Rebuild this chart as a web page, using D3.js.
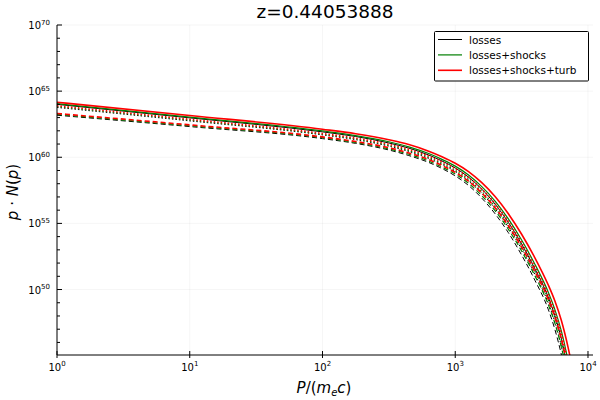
<!DOCTYPE html>
<html>
<head>
<meta charset="utf-8">
<script src="https://cdn.jsdelivr.net/npm/d3@7"></script>
<style>
  body { margin: 0; background: #fff; }
  text { font-family: "DejaVu Sans", sans-serif; }
</style>
</head>
<body>
<div id="chart"></div>
<script>
// log10 of momentum P/(m_e c) at which curves were read
const logP = [0, 1, 2, 2.25, 2.5, 2.65, 2.8, 2.9, 3.0, 3.1, 3.2, 3.3, 3.4, 3.5, 3.6, 3.7, 3.75, 3.8, 3.85, 3.9];

// log10 of p*N(p), solid curves
const lossesSolid  = [64.00, 62.98, 61.92, 61.57, 61.08, 60.69, 60.17, 59.72, 59.19, 58.50, 57.59, 56.46, 55.07, 53.44, 51.57, 49.44, 48.04, 46.25, 43.90, 41.06];
const shocksSolid  = [64.05, 63.04, 61.99, 61.64, 61.17, 60.79, 60.28, 59.84, 59.33, 58.66, 57.78, 56.69, 55.34, 53.74, 51.91, 49.82, 48.50, 46.83, 44.62, 41.93];
const turbSolid    = [64.16, 63.16, 62.12, 61.78, 61.32, 60.96, 60.46, 60.04, 59.55, 58.92, 58.08, 57.03, 55.73, 54.18, 52.40, 50.36, 49.15, 47.64, 45.63, 43.14];
// dotted curves
const lossesDotted = [63.77, 62.75, 61.69, 61.33, 60.84, 60.44, 59.91, 59.46, 58.92, 58.21, 57.28, 56.12, 54.71, 53.05, 51.16, 49.00, 47.55, 45.68, 43.23, 40.29];
const shocksDotted = [63.83, 62.81, 61.74, 61.39, 60.90, 60.51, 59.99, 59.54, 59.01, 58.32, 57.41, 56.28, 54.89, 53.26, 51.39, 49.26, 47.86, 46.07, 43.72, 40.88];
const turbDotted   = [63.89, 62.87, 61.80, 61.45, 60.98, 60.60, 60.09, 59.65, 59.14, 58.47, 57.59, 56.50, 55.15, 53.55, 51.72, 49.63, 48.31, 46.64, 44.43, 41.74];
// dashed curves
const lossesDashed = [63.18, 62.32, 61.41, 61.05, 60.55, 60.13, 59.61, 59.15, 58.59, 57.87, 56.91, 55.73, 54.30, 52.61, 50.70, 48.52, 47.00, 45.05, 42.51, 39.47];
const shocksDashed = [63.24, 62.38, 61.48, 61.12, 60.63, 60.23, 59.71, 59.26, 58.73, 58.03, 57.10, 55.96, 54.56, 52.91, 51.04, 48.89, 47.46, 45.63, 43.23, 40.34];
const turbDashed   = [63.31, 62.45, 61.54, 61.19, 60.72, 60.33, 59.82, 59.38, 58.86, 58.19, 57.29, 56.19, 54.82, 53.21, 51.37, 49.27, 47.92, 46.21, 43.96, 41.22];

const legendNames = ["losses", "losses+shocks", "losses+shocks+turb"];
const xTickExp = [0, 1, 2, 3, 4];
const yTickExp = [50, 55, 60, 65, 70];
const yMinorExp = d3.range(46, 71);
const titleText = "z=0.44053888";

const colors = ["#000000", "#007f00", "#ff0000"];
const widths = [1, 1.2, 1.6];
const dashes = { solid: null, dotted: "1.5,2", dashed: "5,3" };

const series = [
  { v: lossesSolid, c: 0, s: "solid" },
  { v: shocksSolid, c: 1, s: "solid" },
  { v: turbSolid, c: 2, s: "solid" },
  { v: lossesDotted, c: 0, s: "dotted" },
  { v: shocksDotted, c: 1, s: "dotted" },
  { v: turbDotted, c: 2, s: "dotted" },
  { v: lossesDashed, c: 0, s: "dashed" },
  { v: shocksDashed, c: 1, s: "dashed" },
  { v: turbDashed, c: 2, s: "dashed" }
];

const width = 600, height = 400;
const plotL = 57, plotR = 593, plotT = 25, plotB = 355;

const svg = d3.select("#chart").append("svg")
  .attr("width", width).attr("height", height);

const x = d3.scaleLog().domain([1, Math.pow(10, 4.0377)]).range([plotL, plotR]);
const y = d3.scaleLog().domain([Math.pow(10, 45.05), 1e70]).range([plotB, plotT]);

svg.append("clipPath").attr("id", "plotclip")
  .append("rect").attr("x", plotL).attr("y", plotT)
  .attr("width", plotR - plotL).attr("height", plotB - plotT);

// grid
const grid = svg.append("g").attr("stroke", "#000").attr("stroke-opacity", 0.07).attr("stroke-width", 0.6);
xTickExp.forEach(e => {
  grid.append("line").attr("x1", x(Math.pow(10, e))).attr("x2", x(Math.pow(10, e)))
    .attr("y1", plotT).attr("y2", plotB);
});
yTickExp.forEach(e => {
  grid.append("line").attr("x1", plotL).attr("x2", plotR)
    .attr("y1", y(Math.pow(10, e))).attr("y2", y(Math.pow(10, e)));
});

// curves
const line = d3.line()
  .x((d, i) => x(Math.pow(10, logP[i])))
  .y(d => y(Math.pow(10, d)))
  .curve(d3.curveMonotoneX);

svg.append("g").attr("clip-path", "url(#plotclip)")
  .selectAll("path").data(series).enter().append("path")
  .attr("d", d => line(d.v))
  .attr("fill", "none")
  .attr("stroke", d => colors[d.c])
  .attr("stroke-width", d => widths[d.c])
  .attr("stroke-dasharray", d => dashes[d.s]);

// axes
const ax = svg.append("g").attr("stroke", "#000");
ax.append("line").attr("x1", plotL).attr("x2", plotR).attr("y1", plotB).attr("y2", plotB).attr("stroke-width", 1);
ax.append("line").attr("x1", plotL).attr("x2", plotL).attr("y1", plotT).attr("y2", plotB).attr("stroke-width", 1);

xTickExp.forEach(e => {
  const px = x(Math.pow(10, e));
  ax.append("line").attr("x1", px).attr("x2", px).attr("y1", plotB - 4).attr("y2", plotB + 3);
  const t = svg.append("text").attr("x", px).attr("y", 370.5)
    .attr("text-anchor", "middle").attr("font-size", 10);
  t.append("tspan").text("10");
  t.append("tspan").attr("dy", -4.5).attr("font-size", 7).text(e);
});
yMinorExp.forEach(e => {
  const py = y(Math.pow(10, e));
  const major = yTickExp.includes(e);
  ax.append("line").attr("x1", plotL).attr("x2", plotL + (major ? 5 : 3))
    .attr("y1", py).attr("y2", py);
});
yTickExp.forEach(e => {
  const py = y(Math.pow(10, e));
  const t = svg.append("text").attr("x", 50).attr("y", py + 4)
    .attr("text-anchor", "end").attr("font-size", 10);
  t.append("tspan").text("10");
  t.append("tspan").attr("dy", -4.5).attr("font-size", 7).text(e);
});

// title and labels
svg.append("text").attr("x", 325).attr("y", 18).attr("text-anchor", "middle")
  .attr("font-size", 18.5).text(titleText);

const xl = svg.append("text").attr("x", 324).attr("y", 393).attr("text-anchor", "middle").attr("font-size", 15);
xl.append("tspan").attr("font-style", "italic").text("P");
xl.append("tspan").text("/(");
xl.append("tspan").attr("font-style", "italic").text("m");
xl.append("tspan").attr("font-style", "italic").attr("font-size", 10).attr("dy", 3).text("e");
xl.append("tspan").attr("font-style", "italic").attr("dy", -3).text("c");
xl.append("tspan").text(")");

const yl = svg.append("text").attr("transform", "translate(18,192) rotate(-90)")
  .attr("text-anchor", "middle").attr("font-size", 15);
yl.append("tspan").attr("font-style", "italic").text("p");
yl.append("tspan").text(" · ");
yl.append("tspan").attr("font-style", "italic").text("N");
yl.append("tspan").text("(");
yl.append("tspan").attr("font-style", "italic").text("p");
yl.append("tspan").text(")");

// legend
const lg = svg.append("g");
lg.append("rect").attr("x", 434.5).attr("y", 31.5).attr("width", 154).attr("height", 49.5)
  .attr("fill", "#fff").attr("stroke", "#000").attr("stroke-width", 1).attr("rx", 1);
legendNames.forEach((name, i) => {
  const ly = 39.5 + i * 15.4;
  lg.append("line").attr("x1", 438).attr("x2", 462).attr("y1", ly).attr("y2", ly)
    .attr("stroke", colors[i]).attr("stroke-width", widths[i]);
  lg.append("text").attr("x", 469).attr("y", ly + 4).attr("font-size", 10.5).text(name);
});
</script>
</body>
</html>
